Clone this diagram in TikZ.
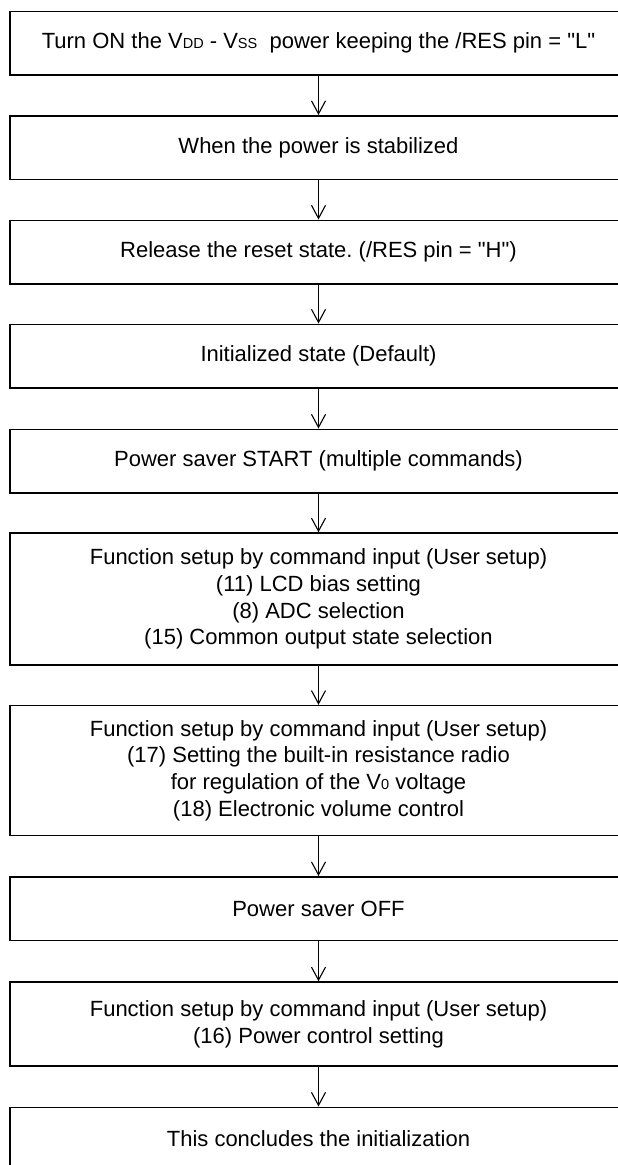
\documentclass[tikz,border=0pt]{standalone}
\usepackage{fontspec}
\setmainfont{Liberation Sans}
\usetikzlibrary{arrows.meta}
\newcommand{\smallcap}[1]{{\fontsize{14.5}{14.5}\selectfont #1}}
\frenchspacing

\begin{document}
\begin{tikzpicture} [x=1pt, y=-1pt,
	stepbox/.style={draw, line width=1.5pt, minimum width=617pt, inner sep=0pt, align=center, font=\fontsize{22}{26.7}\selectfont},
	flow/.style={-{Straight Barb[length=13pt,width=14pt]}, line width=1.1pt}]

% picture frame (right side and last box run off the edge)
\clip (0,0) rectangle (618,1165);

% power up
\node [stepbox, minimum height=63.5pt] (poweron) at (318.5,43) {Turn ON the V\smallcap{DD} - V\smallcap{SS}\ \ power keeping the /RES pin = \textquotedbl L\textquotedbl};
\node [stepbox, minimum height=63.5pt] (stable) at (318.5,147.5) {When the power is stabilized};
\node [stepbox, minimum height=63.5pt] (release) at (318.5,252) {Release the reset state. (/RES pin = \textquotedbl H\textquotedbl)};
\node [stepbox, minimum height=63.5pt] (default) at (318.5,356) {Initialized state (Default)};
\node [stepbox, minimum height=63.5pt] (saverstart) at (318.5,461) {Power saver START (multiple commands)};

% user setup
\node [stepbox, minimum height=132pt] (setupa) at (318.5,599) {Function setup by command input (User setup)\\(11) LCD bias setting\\(8) ADC selection\\(15) Common output state selection};
\node [stepbox, minimum height=130pt] (setupb) at (318.5,770.5) {Function setup by command input (User setup)\\(17) Setting the built-in resistance radio\\for regulation of the V\smallcap{0} voltage\\(18) Electronic volume control};
\node [stepbox, minimum height=63.5pt] (saveroff) at (318.5,908.5) {Power saver OFF};
\node [stepbox, minimum height=84pt] (setupc) at (318.5,1024) {Function setup by command input (User setup)\\(16) Power control setting};
\node [stepbox, minimum height=63.5pt] (done) at (318.5,1139) {This concludes the initialization};

% arrows
\draw [flow] (poweron) -- (stable);
\draw [flow] (stable) -- (release);
\draw [flow] (release) -- (default);
\draw [flow] (default) -- (saverstart);
\draw [flow] (saverstart) -- (setupa);
\draw [flow] (setupa) -- (setupb);
\draw [flow] (setupb) -- (saveroff);
\draw [flow] (saveroff) -- (setupc);
\draw [flow] (setupc) -- (done);

\end{tikzpicture}
\end{document}
